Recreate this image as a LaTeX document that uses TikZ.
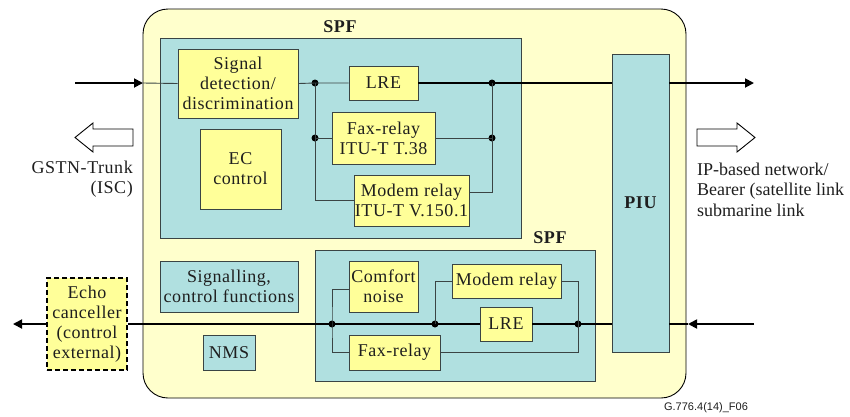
\documentclass[tikz,border=0pt]{standalone}
\usepackage{fontspec}
\setmainfont[LetterSpace=3]{Liberation Serif}
\newfontfamily\plainserif{Liberation Serif}
\newfontfamily\figsans{Liberation Sans}
\usetikzlibrary{arrows.meta}
\definecolor{outerfill}{HTML}{FFFFCC}
\definecolor{cyanfill}{HTML}{B0E0E0}
\definecolor{yelfill}{HTML}{FFFF99}
\definecolor{edgecol}{HTML}{3A4444}
\definecolor{txtcol}{HTML}{1E1E1E}
\tikzset{
  basebox/.style={draw=edgecol, line width=0.9pt, inner sep=0pt, align=center, text=txtcol,
    font=\fontsize{18}{20}\selectfont},
  cbox/.style={basebox, fill=cyanfill},
  ybox/.style={basebox, fill=yelfill},
  conn/.style={draw=edgecol, line width=0.9pt},
  mainline/.style={draw=black, line width=1.8pt},
  tipped/.style={mainline, -{Triangle[length=9pt,width=9pt]}},
  jdot/.style={circle, fill=black, inner sep=0pt, minimum size=7pt},
  lbl/.style={text=txtcol, font=\fontsize{18}{20}\selectfont, inner sep=0pt},
  hollow/.style={draw=black, fill=white, line width=0.9pt}
}
\begin{document}
\begin{tikzpicture}[x=1pt,y=-1pt]
\useasboundingbox (0,0) rectangle (850,416);
% outer block
\path[draw=black, line width=0.9pt, fill=outerfill, rounded corners=25pt] (143,9) rectangle (686,398);
\node[inner sep=0pt, minimum width=543, minimum height=389] (outer) at (414.5,203.5) {};
% SPF boxes
\node[cbox, minimum width=361, minimum height=200] (spfa) at (340.5,138) {};
\node[lbl, font=\fontsize{18}{20}\selectfont\bfseries] (spfalbl) at (340,27) {SPF};
\node[cbox, minimum width=280, minimum height=131] (spfb) at (455,315.5) {};
\node[lbl, font=\fontsize{18}{20}\selectfont\bfseries] (spfblbl) at (550,238) {SPF};
% PIU
\node[cbox, minimum width=57, minimum height=298, font=\fontsize{18}{20}\selectfont\bfseries] (piu) at (640.5,203) {PIU};
% top SPF contents
\node[ybox, minimum width=120, minimum height=69] (sig) at (238,83.5) {Signal\\detection/\\discrimination};
\node[ybox, minimum width=81, minimum height=80] (ec) at (240.5,169) {EC\\control};
\node[ybox, minimum width=69, minimum height=34] (lrea) at (383.5,83) {LRE};
\node[ybox, minimum width=103, minimum height=52] (faxa) at (383.5,138) {Fax-relay\\ITU-T T.38};
\node[ybox, minimum width=115, minimum height=51] (moda) at (411.5,200.5) {Modem relay\\ITU-T V.150.1};
% lower left
\node[cbox, minimum width=138, minimum height=51] (sigctl) at (229,286.5) {Signalling,\\control functions};
\node[cbox, minimum width=52, minimum height=35] (nms) at (229,352.5) {NMS};
\node[basebox, fill=yelfill, draw=black, dash pattern=on 5pt off 3pt, line width=1.6pt, minimum width=80, minimum height=92] (echo) at (87,324) {Echo\\canceller\\(control\\external)};
% lower SPF contents
\node[ybox, minimum width=69, minimum height=51] (cn) at (383.5,286.5) {Comfort\\noise};
\node[ybox, minimum width=91, minimum height=35] (faxb) at (394.5,352.5) {Fax-relay};
\node[ybox, minimum width=109, minimum height=34] (modb) at (506.5,281) {Modem relay};
\node[ybox, minimum width=52, minimum height=34] (lreb) at (506,324) {LRE};
% coordinates
\coordinate (inL) at (75,83);
\coordinate (tipL) at (143,83);
\coordinate (outR) at (754,83);
\coordinate (outL) at (13,324);
\coordinate (inR) at (754,324);
\coordinate (tipR) at (688,324);
\coordinate (modaR) at ([yshift=8.5pt]moda.east);
\coordinate (cnL) at ([yshift=-2.5pt]cn.west);
% top path
\node[jdot] (d1) at (315,83) {};
\node[jdot] (d2) at (492,83) {};
\node[jdot] (d3) at (315,138) {};
\node[jdot] (d4) at (492,138) {};
\draw[tipped] (inL) -- (tipL);
\draw[conn] (tipL) -- (sig.west);
\draw[conn] (sig.east) -- (d1.center) -- (lrea.west);
\draw[mainline] (lrea.east) -- (d2.center) -- (d2 -| piu.west);
\draw[tipped] (d2 -| piu.east) -- (outR);
\draw[conn] (d1.center) |- (moda.west);
\draw[conn] (d3.center) -- (faxa.west);
\draw[conn] (faxa.east) -- (d4.center);
\draw[conn] (d2.center) |- (modaR);
% bottom path
\node[jdot] (b1) at (332,324) {};
\node[jdot] (b2) at (435,324) {};
\node[jdot] (b3) at (578,324) {};
\draw[tipped] (echo.west) -- (outL);
\draw[mainline] (echo.east) -- (b1.center) -- (b2.center) -- (lreb.west);
\draw[mainline] (lreb.east) -- (b3.center) -- (b3 -| piu.west);
\draw[tipped] (inR) -- (tipR);
\draw[mainline] (tipR) -- (b3 -| piu.east);
\draw[conn] (cnL) -| (b1.center) |- (faxb.west);
\draw[conn] (b2.center) |- (modb.west);
\draw[conn] (modb.east) -| (b3.center) |- (faxb.east);
% hollow arrows
\draw[hollow] (75,137.5) -- (93,123) -- (93,129) -- (133,129) -- (133,146) -- (93,146) -- (93,152) -- cycle;
\draw[hollow] (755,137.5) -- (737,123) -- (737,129) -- (697,129) -- (697,146) -- (737,146) -- (737,152) -- cycle;
% side texts
\node[lbl, anchor=east, align=right] (gstn) at (133,179.5) {GSTN-Trunk\\(ISC)};
\node[lbl, anchor=west, align=left, font=\plainserif\fontsize{18}{20.5}\selectfont] (ipnet) at (697,189.5) {IP-based network/\\Bearer (satellite link\\submarine link};
\node[text=txtcol, inner sep=0pt, font=\figsans\fontsize{11}{12}\selectfont] (fig) at (706,408) {G.776.4(14)\_F06};
\end{tikzpicture}
\end{document}
